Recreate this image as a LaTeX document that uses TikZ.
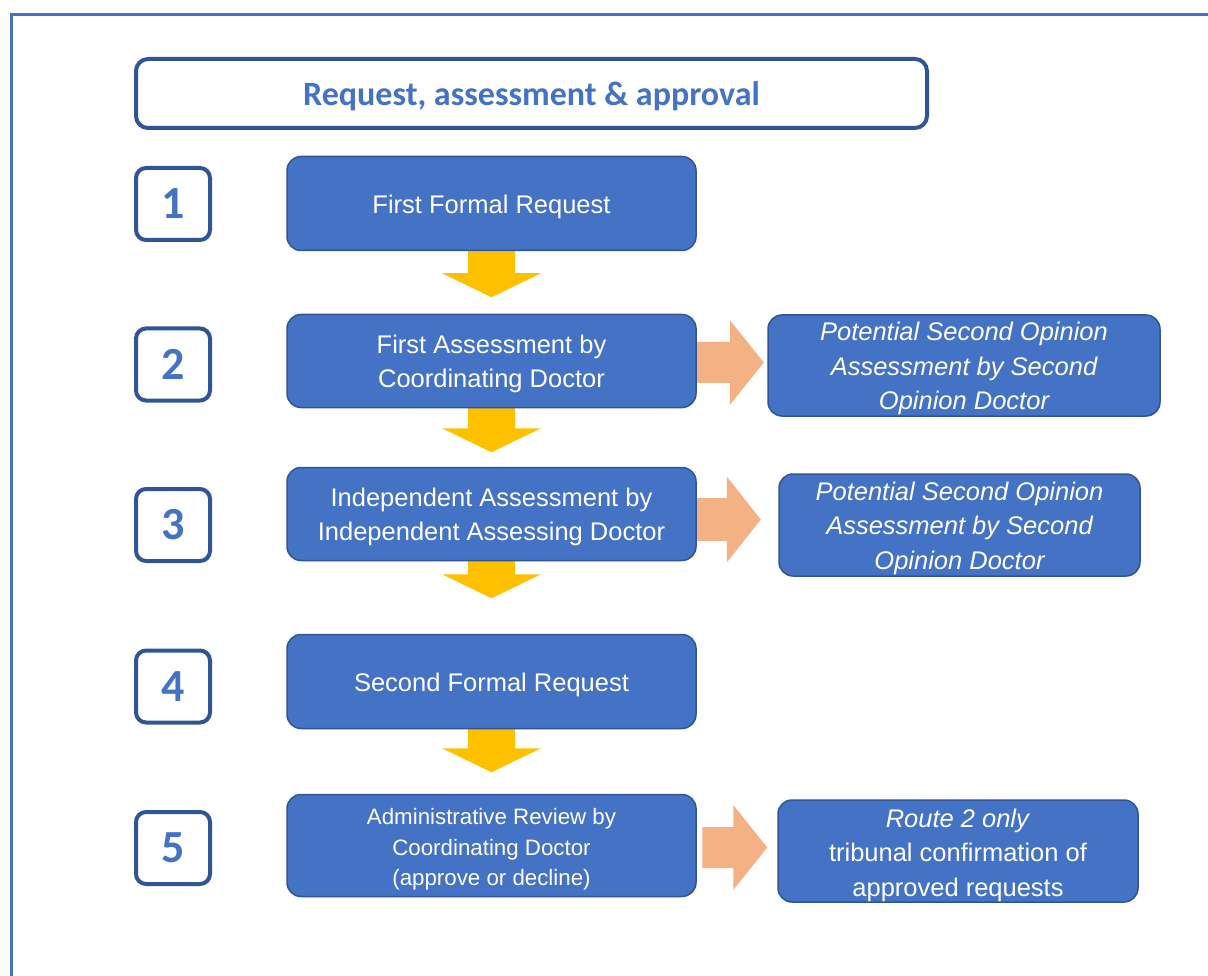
\documentclass[tikz,border=0pt]{standalone}
\usepackage{fontspec}
\setmainfont{Liberation Sans}
\newfontfamily\carlito{Carlito}
\usetikzlibrary{calc,backgrounds}
\definecolor{mainc}{HTML}{4472C4}
\definecolor{bordc}{HTML}{2F5597}
\definecolor{yellc}{HTML}{FFC000}
\definecolor{orc}{HTML}{F4B183}
\newcommand\orarrow[5]{\begin{scope}[shift={(#1)}]\fill[orc] (0,-#2) -- (#3,-#2) -- (#3,-#4) -- (#5,0) -- (#3,#4) -- (#3,#2) -- (0,#2) -- cycle;\end{scope}}
\newcommand\yarrow[2]{\begin{scope}[shift={(#1)}]\fill[yellc] (-23.5,-3) -- (-23.5,{#2-24}) -- (-49.5,{#2-24}) -- (0,#2) -- (49.5,{#2-24}) -- (23.5,{#2-24}) -- (23.5,-3) -- cycle;\end{scope}}
\tikzset{
  mainbox/.style={draw=bordc, line width=1.5pt, fill=mainc, rounded corners=14pt,
    minimum width=409pt, inner sep=0pt},
  boxtext/.style={text=white, align=center, inner sep=0pt,
    font=\fontsize{25.5}{34.5}\selectfont},
  sidetext/.style={boxtext, font=\fontsize{25.5}{34.5}\selectfont\itshape},
  numbox/.style={draw=bordc, line width=4pt, fill=white, rounded corners=10pt,
    minimum width=74pt, minimum height=72pt, inner sep=0pt, text=mainc,
    font=\carlito\bfseries\fontsize{46}{46}\selectfont},
  titlebox/.style={draw=bordc, line width=4pt, fill=white, rounded corners=12pt,
    minimum width=791pt, minimum height=69pt, inner sep=0pt},
  titletext/.style={text=mainc, inner sep=0pt,
    font=\carlito\bfseries\fontsize{34}{40}\selectfont}
}
\begin{document}
\begin{tikzpicture}[x=1pt,y=-1pt]
\useasboundingbox (0,0) rectangle (1208,976);
\draw[mainc, line width=3pt] (11.5,976) -- (11.5,14.5) -- (1208,14.5);

\node[titlebox] (title) at (531.5,93.5) {};
\node[titletext] (titlet) at ([yshift=-3pt]title.center) {Request, assessment \& approval};

\node[numbox] (n1) at (173,204) {1};
\node[numbox] (n2) at (173,364.5) {2};
\node[numbox] (n3) at (173,525) {3};
\node[numbox] (n4) at (173,686.5) {4};
\node[numbox] (n5) at (173,848) {5};

\node[mainbox, minimum height=94pt] (m1) at (491.5,203.5) {};
\node[mainbox, minimum height=93pt] (m2) at (491.5,361) {};
\node[mainbox, minimum height=93pt] (m3) at (491.5,514) {};
\node[mainbox, minimum height=94pt] (m4) at (491.5,681.5) {};
\node[mainbox, minimum height=102pt] (m5) at (491.5,845.5) {};

\node[boxtext] (t1) at ([yshift=-3pt]m1.center) {First Formal Request};
\node[boxtext] (t2) at ([yshift=-3pt]m2.center) {First Assessment by\\Coordinating Doctor};
\node[boxtext] (t3) at ([yshift=-3pt]m3.center) {Independent Assessment by\\Independent Assessing Doctor};
\node[boxtext] (t4) at ([yshift=-3pt]m4.center) {Second Formal Request};
\node[boxtext, font=\fontsize{22.3}{30.5}\selectfont] (t5) at ([yshift=-4pt]m5.center) {Administrative Review by\\Coordinating Doctor\\(approve or decline)};

\node[mainbox, minimum width=392pt, minimum height=101pt] (s2) at (964,365.5) {};
\node[mainbox, minimum width=361pt, minimum height=102pt] (s3) at (959.5,525) {};
\node[mainbox, minimum width=360pt, minimum height=102pt] (s5) at (958,851) {};

\node[sidetext] (u2) at ([yshift=-3pt]s2.center) {Potential Second Opinion\\Assessment by Second\\Opinion Doctor};
\node[sidetext] (u3) at ([yshift=-3pt]s3.center) {Potential Second Opinion\\Assessment by Second\\Opinion Doctor};
\node[boxtext] (u5) at ([yshift=-4pt]s5.center) {\textit{Route 2 only}\\tribunal confirmation of\\approved requests};

\begin{scope}[on background layer]
\yarrow{m1.south}{46}
\yarrow{m2.south}{44}
\yarrow{m3.south}{37}
\yarrow{m4.south}{43}
\orarrow{$(m2.east)+(-3,1.5)$}{20.5}{36}{42.5}{70}
\orarrow{$(m3.east)+(-3,5.5)$}{21.5}{33}{43}{67}
\end{scope}
\orarrow{$(m5.east)+(5.5,2)$}{20.5}{31}{42.5}{65}
\end{tikzpicture}
\end{document}
